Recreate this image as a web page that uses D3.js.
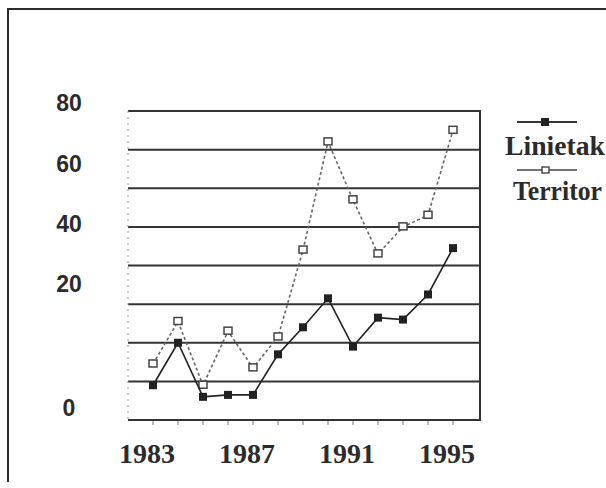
<!DOCTYPE html>
<html>
<head>
<meta charset="utf-8">
<script src="https://cdn.jsdelivr.net/npm/d3@7"></script>
<style>
  html, body { margin: 0; padding: 0; background: #fff; }
  svg { display: block; }
</style>
</head>
<body>
<svg id="chart" width="606" height="488"></svg>
<script>
// Years on the horizontal axis
const years = [1983, 1984, 1985, 1986, 1987, 1988, 1989, 1990, 1991, 1992, 1993, 1994, 1995];
// Series values
const linietak = [9, 20, 6, 6.5, 6.5, 17, 24, 31.5, 19, 26.5, 26, 32.5, 44.5];
const territor = [14.5, 25.5, 9, 23, 13.5, 21.5, 44, 72, 57, 43, 50, 53, 75];
// Axis labels
const yTickLabels = [0, 20, 40, 60, 80];
const xTickLabels = [1983, 1987, 1991, 1995];
const gridValues = [0, 10, 20, 30, 40, 50, 60, 70, 80];
const seriesNames = ["Linietak", "Territor"];

const svg = d3.select("#chart");
const ink = "#2b2b2b";

// Outer frame (left and top edges)
svg.append("path")
  .attr("d", "M8,482 L8,9 L606,9")
  .attr("fill", "none").attr("stroke", ink).attr("stroke-width", 2);

// Scales
const x = d3.scaleLinear().domain([1982, 1996]).range([128, 478]);
const y = d3.scaleLinear().domain([0, 80]).range([420, 111]);
// The value labels sit on their own, uneven spacing
const yLabel = d3.scaleLinear().domain([0, 20, 80]).range([408, 284, 103]);

const plotL = x(1982), plotR = 480;

// Horizontal rules
svg.append("g").selectAll("line").data(gridValues).join("line")
  .attr("x1", plotL).attr("x2", plotR)
  .attr("y1", d => y(d)).attr("y2", d => y(d))
  .attr("stroke", "#333").attr("stroke-width", 2);

// Left edge of plot (faint dotted) and right edge (solid)
svg.append("line")
  .attr("x1", plotL).attr("x2", plotL).attr("y1", y(80)).attr("y2", y(0))
  .attr("stroke", "#999").attr("stroke-width", 1).attr("stroke-dasharray", "2,4");
svg.append("line")
  .attr("x1", plotR).attr("x2", plotR).attr("y1", y(80) - 1).attr("y2", y(0) + 1)
  .attr("stroke", "#333").attr("stroke-width", 2);

// Small ticks under the bottom rule
svg.append("g").selectAll("line").data(years).join("line")
  .attr("x1", d => x(d)).attr("x2", d => x(d))
  .attr("y1", y(0) + 1).attr("y2", y(0) + 5)
  .attr("stroke", "#777").attr("stroke-width", 1);

// Value labels
svg.append("g").selectAll("text").data(yTickLabels).join("text")
  .attr("x", 69).attr("y", d => yLabel(d))
  .attr("dy", "0.36em")
  .attr("text-anchor", "middle")
  .attr("font-family", "'Liberation Sans', Arial, sans-serif")
  .attr("font-weight", "bold").attr("font-size", 23)
  .attr("fill", ink)
  .text(d => d);

// Year labels
svg.append("g").selectAll("text").data(xTickLabels).join("text")
  .attr("x", d => x(d) - 6).attr("y", 463)
  .attr("text-anchor", "middle")
  .attr("font-family", "'Liberation Serif', 'Times New Roman', serif")
  .attr("font-weight", "bold").attr("font-size", 28)
  .attr("fill", ink)
  .text(d => d);

const line = d3.line().x(d => x(d[0])).y(d => y(d[1]));
const terrPts = years.map((yr, i) => [yr, territor[i]]);
const liniPts = years.map((yr, i) => [yr, linietak[i]]);

// Territor: dashed grey line with open squares
svg.append("path").datum(terrPts)
  .attr("d", line).attr("fill", "none")
  .attr("stroke", "#666").attr("stroke-width", 1.6)
  .attr("stroke-dasharray", "3,2.5");
svg.append("g").selectAll("rect").data(terrPts).join("rect")
  .attr("x", d => x(d[0]) - 4).attr("y", d => y(d[1]) - 4)
  .attr("width", 8).attr("height", 7)
  .attr("fill", "#fff").attr("stroke", "#444").attr("stroke-width", 1.5);

// Linietak: solid dark line with filled squares
svg.append("path").datum(liniPts)
  .attr("d", line).attr("fill", "none")
  .attr("stroke", "#222").attr("stroke-width", 1.6);
svg.append("g").selectAll("rect").data(liniPts).join("rect")
  .attr("x", d => x(d[0]) - 4).attr("y", d => y(d[1]) - 4)
  .attr("width", 8).attr("height", 8)
  .attr("fill", "#222");

// Legend
const legend = svg.append("g");
legend.append("line").attr("x1", 517).attr("x2", 577).attr("y1", 122).attr("y2", 122)
  .attr("stroke", "#333").attr("stroke-width", 2);
legend.append("rect").attr("x", 541).attr("y", 118).attr("width", 8).attr("height", 8).attr("fill", "#222");
legend.append("text").attr("x", 505).attr("y", 155)
  .attr("font-family", "'Liberation Serif', 'Times New Roman', serif")
  .attr("font-weight", "bold").attr("font-size", 27).attr("fill", ink)
  .attr("textLength", 100).attr("lengthAdjust", "spacingAndGlyphs")
  .text(seriesNames[0]);
legend.append("line").attr("x1", 517).attr("x2", 577).attr("y1", 170).attr("y2", 170)
  .attr("stroke", "#444").attr("stroke-width", 1.6);
legend.append("rect").attr("x", 542).attr("y", 167).attr("width", 7).attr("height", 6)
  .attr("fill", "#fff").attr("stroke", "#444").attr("stroke-width", 1.4);
legend.append("text").attr("x", 513).attr("y", 200)
  .attr("font-family", "'Liberation Serif', 'Times New Roman', serif")
  .attr("font-weight", "bold").attr("font-size", 27).attr("fill", ink)
  .attr("textLength", 89).attr("lengthAdjust", "spacingAndGlyphs")
  .text(seriesNames[1]);
</script>
</body>
</html>
